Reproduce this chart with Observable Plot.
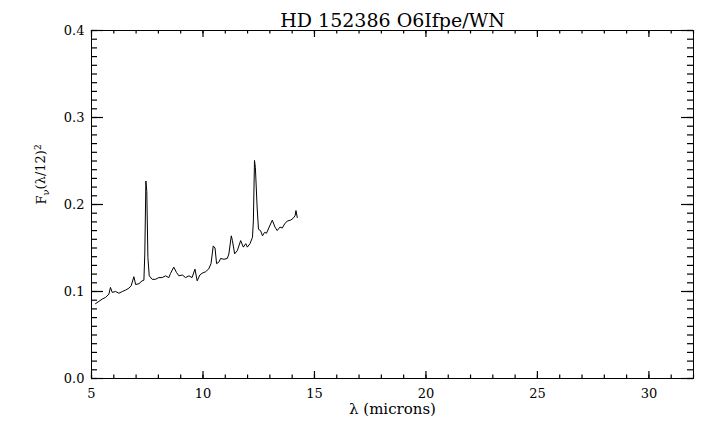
<!DOCTYPE html>
<html>
<head>
<meta charset="utf-8">
<script src="https://cdn.jsdelivr.net/npm/d3@7"></script>
<script src="https://cdn.jsdelivr.net/npm/@observablehq/plot@0.6"></script>
<style>
  html, body { margin: 0; padding: 0; background: #fff; }
</style>
</head>
<body>
<div id="chart"></div>
<script>
const title = "HD 152386 O6Ifpe/WN";
const xLabel = "λ (microns)";
const yLabel = "Fν(λ/12)2";

const wavelength = [5.18,5.33,5.48,5.63,5.78,5.85,5.93,6.08,6.23,6.38,6.53,6.68,6.78,6.90,6.98,7.13,7.27,7.35,7.39,7.44,7.48,7.53,7.59,7.72,7.87,8.02,8.17,8.32,8.47,8.54,8.69,8.81,8.92,9.07,9.22,9.37,9.51,9.64,9.74,9.86,9.96,10.11,10.26,10.36,10.46,10.54,10.61,10.72,10.79,10.94,11.09,11.16,11.27,11.32,11.42,11.54,11.69,11.81,11.92,11.99,12.11,12.22,12.26,12.31,12.35,12.43,12.49,12.58,12.67,12.76,12.85,12.95,13.11,13.23,13.33,13.45,13.56,13.66,13.78,13.93,14.04,14.13,14.17,14.23];
const flux = [0.086,0.0886,0.0913,0.0932,0.097,0.1047,0.099,0.100,0.098,0.100,0.1016,0.1039,0.1066,0.117,0.108,0.109,0.1123,0.113,0.143,0.227,0.215,0.139,0.118,0.114,0.114,0.116,0.116,0.118,0.116,0.1206,0.128,0.122,0.118,0.119,0.116,0.118,0.116,0.1257,0.1123,0.119,0.121,0.1226,0.126,0.132,0.1524,0.150,0.132,0.134,0.138,0.137,0.138,0.143,0.164,0.1585,0.1433,0.147,0.1585,0.151,0.155,0.151,0.155,0.1623,0.181,0.2506,0.2424,0.196,0.1715,0.170,0.164,0.168,0.167,0.173,0.182,0.174,0.170,0.174,0.173,0.1776,0.181,0.182,0.184,0.187,0.193,0.185];

const xMajorTicks = [5, 10, 15, 20, 25, 30];
const xMinorTicks = [5,6,7,8,9,10,11,12,13,14,15,16,17,18,19,20,21,22,23,24,25,26,27,28,29,30,31,32];
const yMajorTicks = [0.0, 0.1, 0.2, 0.3, 0.4];
const yMinorTicks = d3.range(0, 41, 1).map(d => d / 100);

const spectrum = wavelength.map((x, i) => ({x, y: flux[i]}));

const W = 720, H = 439;
const mL = 91, mR = 27, mT = 30, mB = 61;
const font = "DejaVu Serif";
const xDomain = [5, 32], yDomain = [0, 0.4];

// inward tick lengths (pixels), converted to data units
const fw = W - mL - mR, fh = H - mT - mB;
const xTickLen = 7, yTickLen = 12;
const yUnitsPerPx = (yDomain[1] - yDomain[0]) / fh;
const xUnitsPerPx = (xDomain[1] - xDomain[0]) / fw;

const xTickRows = [];
for (const [values, len] of [[xMinorTicks, xTickLen / 2], [xMajorTicks, xTickLen]]) {
  const dy = len * yUnitsPerPx;
  for (const v of values) {
    xTickRows.push({x: v, y1: yDomain[0], y2: yDomain[0] + dy});
    xTickRows.push({x: v, y1: yDomain[1] - dy, y2: yDomain[1]});
  }
}
const yTickRows = [];
for (const [values, len] of [[yMinorTicks, yTickLen / 2], [yMajorTicks, yTickLen]]) {
  const dx = len * xUnitsPerPx;
  for (const v of values) {
    yTickRows.push({y: v, x1: xDomain[0], x2: xDomain[0] + dx});
    yTickRows.push({y: v, x1: xDomain[1] - dx, x2: xDomain[1]});
  }
}

const chart = Plot.plot({
  width: W,
  height: H,
  marginLeft: mL,
  marginRight: mR,
  marginTop: mT,
  marginBottom: mB,
  style: {fontFamily: font, fontSize: "13px", background: "#fff", color: "#000"},
  x: {domain: xDomain, axis: null},
  y: {domain: yDomain, axis: null},
  marks: [
    Plot.frame({stroke: "#000", fill: "none"}),
    Plot.ruleX(xTickRows, {x: "x", y1: "y1", y2: "y2", stroke: "#000", strokeWidth: 1.2}),
    Plot.ruleY(yTickRows, {y: "y", x1: "x1", x2: "x2", stroke: "#000", strokeWidth: 1.2}),
    Plot.axisX(xMajorTicks, {anchor: "bottom", tickSize: 0, tickPadding: 10, label: null, fontSize: 13, tickFormat: d => String(d)}),
    Plot.axisY(yMajorTicks, {anchor: "left", tickSize: 0, tickPadding: 7, label: null, fontSize: 13, tickFormat: d3.format(".1f")}),
    Plot.line(spectrum, {x: "x", y: "y", stroke: "#000", strokeWidth: 1}),
    Plot.text([title], {frameAnchor: "top", dy: -17, fontSize: 19, fill: "#000"}),
    Plot.text([xLabel], {frameAnchor: "bottom", dy: 35, fontSize: 15, fill: "#000"}),
    Plot.text([yLabel], {frameAnchor: "left", dx: -50, rotate: -90, fontSize: 13, fill: "#000"})
  ]
});

d3.select(chart).selectAll("text").filter(function() { return this.textContent === yLabel; })
  .each(function() {
    const t = d3.select(this);
    t.text(null);
    t.append("tspan").text("F");
    t.append("tspan").attr("dy", "0.3em").attr("font-size", "10px").text("ν");
    t.append("tspan").attr("dy", "-0.3em").text("(λ/12)");
    t.append("tspan").attr("dy", "-0.45em").attr("font-size", "9px").text("2");
  });

document.getElementById("chart").appendChild(chart);
</script>
</body>
</html>
